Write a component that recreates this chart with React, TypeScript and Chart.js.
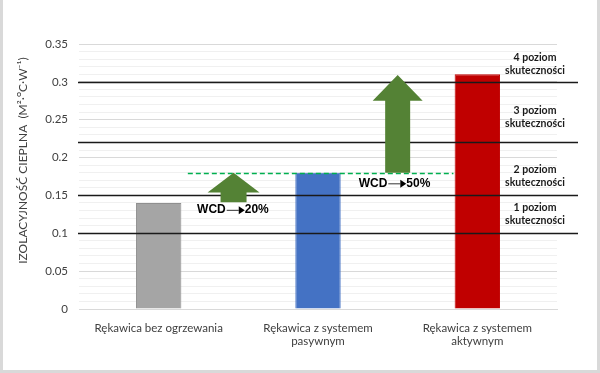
import React, { useEffect, useRef } from "react";
import { Chart, registerables } from "chart.js";

Chart.register(...registerables);

// ---- data ----
const categories = [
  ["Rękawica bez ogrzewania"],
  ["Rękawica z systemem", "pasywnym"],
  ["Rękawica z systemem", "aktywnym"],
];
const insulationValues = [0.14, 0.18, 0.31];
const barColors = ["#a5a5a5", "#4472c4", "#c00000"];

const yMin = 0;
const yMax = 0.35;
const minorStep = 0.01;
const majorStep = 0.05;

const levelLineValues = [0.1, 0.15, 0.22, 0.3];
const levelLabelTexts = [
  ["1 poziom", "skuteczności"],
  ["2 poziom", "skuteczności"],
  ["3 poziom", "skuteczności"],
  ["4 poziom", "skuteczności"],
];
const levelLabelValues = [0.125, 0.176, 0.253, 0.323];

const passiveLevel = 0.18;
const passiveLineFrom = 0.183; // category index
const passiveLineTo = 1.85; // category index

const wcdPercents = ["20%", "50%"];
const arrowIndex = [0.47, 1.5];
const arrowTipValues = [0.18, 0.309];
const arrowHeadBaseValues = [0.154, 0.275];
const arrowBottomValues = [0.141, 0.18];
const wcdTextIndex = [0.466, 1.48];
const wcdTextValues = [0.131, 0.166];

const yTitle = "IZOLACYJNOŚĆ CIEPLNA  (M²·ᴼC·W⁻¹)";

const FONT = "Lato, 'Open Sans', sans-serif";

function fmt(v: number) {
  return String(Number(v.toFixed(2)));
}

function isMajor(v: number) {
  const r = Math.round(v / minorStep);
  return r % Math.round(majorStep / minorStep) === 0;
}

const overlayPlugin = {
  id: "overlay",
  afterDatasetsDraw(chart: any) {
    const { ctx, chartArea, scales } = chart;
    const x = scales.x;
    const y = scales.y;
    ctx.save();

    // level lines
    ctx.strokeStyle = "#1a1a1a";
    ctx.lineWidth = 1.4;
    levelLineValues.forEach((v) => {
      const py = Math.round(y.getPixelForValue(v)) + 0.5;
      ctx.beginPath();
      ctx.moveTo(chartArea.left - 1, py);
      ctx.lineTo(chart.width - 22, py);
      ctx.stroke();
    });

    // level labels
    ctx.fillStyle = "#1a1a1a";
    ctx.font = `bold 10.5px ${FONT}`;
    ctx.textAlign = "center";
    ctx.textBaseline = "middle";
    levelLabelTexts.forEach((lines, i) => {
      const cy = y.getPixelForValue(levelLabelValues[i]);
      const cx = chartArea.right - 22;
      ctx.fillText(lines[0], cx, cy - 6.5);
      ctx.fillText(lines[1], cx, cy + 6.5);
    });

    // dashed passive line
    ctx.strokeStyle = "#00b050";
    ctx.lineWidth = 1.5;
    ctx.setLineDash([5, 3]);
    const dy = Math.round(y.getPixelForValue(passiveLevel)) + 0.5;
    ctx.beginPath();
    ctx.moveTo(x.getPixelForValue(passiveLineFrom), dy);
    ctx.lineTo(x.getPixelForValue(passiveLineTo), dy);
    ctx.stroke();
    ctx.setLineDash([]);

    // arrows
    const headHalf = [26, 25];
    const shaftHalf = [13, 12.5];
    ctx.fillStyle = "#548235";
    arrowIndex.forEach((idx, i) => {
      const cx = x.getPixelForValue(idx);
      const tip = y.getPixelForValue(arrowTipValues[i]);
      const base = y.getPixelForValue(arrowHeadBaseValues[i]);
      const bottom = y.getPixelForValue(arrowBottomValues[i]);
      ctx.beginPath();
      ctx.moveTo(cx, tip);
      ctx.lineTo(cx + headHalf[i], base);
      ctx.lineTo(cx + shaftHalf[i], base);
      ctx.lineTo(cx + shaftHalf[i], bottom);
      ctx.lineTo(cx - shaftHalf[i], bottom);
      ctx.lineTo(cx - shaftHalf[i], base);
      ctx.lineTo(cx - headHalf[i], base);
      ctx.closePath();
      ctx.fill();
    });

    // WCD labels
    ctx.font = "bold 12px 'Liberation Sans', Arial, sans-serif";
    ctx.textBaseline = "middle";
    ctx.textAlign = "left";
    wcdPercents.forEach((pct, i) => {
      const cx = x.getPixelForValue(wcdTextIndex[i]);
      const cy = y.getPixelForValue(wcdTextValues[i]);
      const w1 = ctx.measureText("WCD").width;
      const w2 = ctx.measureText(pct).width;
      const lineLen = 12;
      const triW = 6;
      const total = w1 + 1 + lineLen + triW + w2;
      let sx = cx - total / 2;
      ctx.fillStyle = "#000";
      ctx.fillText("WCD", sx, cy);
      sx += w1 + 1;
      ctx.strokeStyle = "#333";
      ctx.lineWidth = 1;
      ctx.beginPath();
      ctx.moveTo(sx, cy + 0.5);
      ctx.lineTo(sx + lineLen, cy + 0.5);
      ctx.stroke();
      sx += lineLen;
      ctx.beginPath();
      ctx.moveTo(sx, cy - 3.5);
      ctx.lineTo(sx + triW, cy + 0.5);
      ctx.lineTo(sx, cy + 4.5);
      ctx.closePath();
      ctx.fillStyle = "#000";
      ctx.fill();
      sx += triW;
      ctx.fillText(pct, sx, cy);
    });

    ctx.restore();
  },
  afterDraw(chart: any) {
    const { ctx, chartArea } = chart;
    ctx.save();
    // y axis title
    ctx.fillStyle = "#404040";
    ctx.font = `12px ${FONT}`;
    ctx.textAlign = "center";
    ctx.textBaseline = "middle";
    ctx.translate(23, (chartArea.top + chartArea.bottom) / 2 - 16);
    ctx.rotate(-Math.PI / 2);
    ctx.fillText(yTitle, 0, 0);
    ctx.restore();

    // frame
    ctx.save();
    ctx.fillStyle = "#d9d9d9";
    ctx.fillRect(0, 0, 3, chart.height);
    ctx.fillRect(chart.width - 3, 0, 3, chart.height);
    ctx.fillRect(0, chart.height - 3, chart.width, 3);
    ctx.restore();
  },
};

export default function App() {
  const ref = useRef<HTMLCanvasElement | null>(null);

  useEffect(() => {
    if (!ref.current) return;
    const chart = new Chart(ref.current, {
      type: "bar",
      data: {
        labels: categories as any,
        datasets: [
          {
            data: insulationValues,
            backgroundColor: barColors,
            borderColor: ["#8f8f8f", "#4472c4", "#c00000"],
            borderWidth: 1,
            categoryPercentage: 0.57,
            barPercentage: 0.5,
          },
        ],
      },
      options: {
        animation: false,
        responsive: false,
        maintainAspectRatio: false,
        layout: { padding: { top: 44, right: 43, left: 0, bottom: 0 } },
        plugins: { legend: { display: false }, tooltip: { enabled: false } },
        scales: {
          x: {
            grid: { display: false },
            border: { display: true, color: "#d9d9d9" },
            ticks: {
              color: "#404040",
              font: { family: FONT, size: 11.5 },
              padding: 4,
              maxRotation: 0,
              autoSkip: false,
            },
            afterFit(scale: any) {
              scale.height = 64;
            },
          },
          y: {
            min: yMin,
            max: yMax,
            grid: {
              color: (c: any) => (isMajor(c.tick ? c.tick.value : 0) ? "#d9d9d9" : "#f0f0f0"),
              drawTicks: false,
              lineWidth: 1,
            },
            border: { display: false },
            ticks: {
              autoSkip: false,
              padding: 11,
              color: "#404040",
              font: { family: FONT, size: 11.5 },
              callback: (v: any) => (isMajor(Number(v)) ? fmt(Number(v)) : ""),
            },
            afterBuildTicks(scale: any) {
              const ticks = [];
              const n = Math.round((yMax - yMin) / minorStep);
              for (let i = 0; i <= n; i++) ticks.push({ value: Number((yMin + i * minorStep).toFixed(2)) });
              scale.ticks = ticks;
            },
            afterFit(scale: any) {
              scale.width = 79;
            },
          },
        },
      },
      plugins: [overlayPlugin],
    });
    return () => chart.destroy();
  }, []);

  return (
    <div style={{ position: "fixed", left: 0, top: 0, width: 600, height: 373, background: "#fff" }}>
      <canvas ref={ref} width={600} height={373} style={{ display: "block", width: 600, height: 373 }} />
    </div>
  );
}
